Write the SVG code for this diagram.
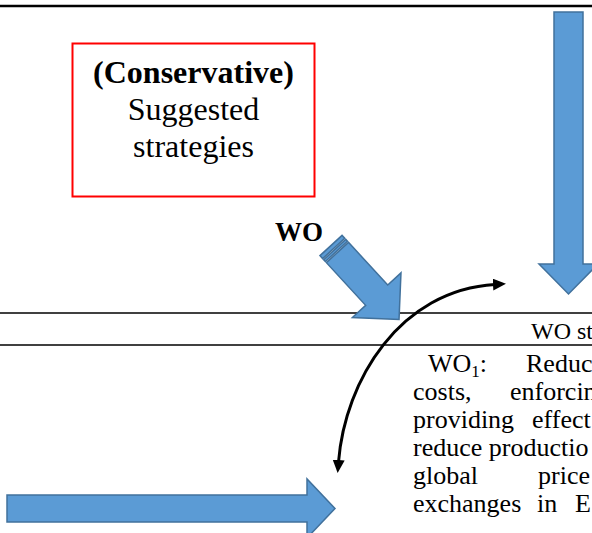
<svg xmlns="http://www.w3.org/2000/svg" width="592" height="533" viewBox="0 0 592 533">
<defs>
<style>
.blk{fill:#5B9BD5;stroke:#41719C;stroke-width:1.5;stroke-linejoin:miter}
.rule{stroke:#000;fill:none}
.t{font-family:"Liberation Serif","Times New Roman",serif;fill:#000}
.p{font-size:26px}
</style>
<marker id="ah" markerUnits="userSpaceOnUse" markerWidth="14" markerHeight="13" refX="2" refY="6" orient="auto-start-reverse">
<path d="M0,0 L13,6 L0,12 z" fill="#000"/>
</marker>
</defs>
<rect width="592" height="533" fill="#fff"/>
<g id="rules">
<line class="rule" x1="0" y1="6" x2="592" y2="6" stroke-width="2.5"/>
<line class="rule" x1="0" y1="313" x2="592" y2="313" stroke-width="1.5"/>
<line class="rule" x1="0" y1="345" x2="592" y2="345" stroke-width="1.5"/>
</g>
<g id="conservative-box">
<rect x="72.5" y="43.5" width="242" height="153" fill="none" stroke="#FF0000" stroke-width="2"/>
<text class="t" x="193.5" y="83" font-size="32" font-weight="bold" text-anchor="middle">(Conservative)</text>
<text class="t" x="193.5" y="120" font-size="32" text-anchor="middle">Suggested</text>
<text class="t" x="193.5" y="157" font-size="32" text-anchor="middle">strategies</text>
</g>
<g id="wo-label">
<text class="t" x="275" y="241" font-size="27" font-weight="bold">WO</text>
</g>
<g id="wo-arrow" transform="translate(331,245.5) rotate(47.4)">
<rect class="blk" x="0" y="-15" width="4" height="30"/>
<rect class="blk" x="5.5" y="-15" width="2.5" height="30"/>
<polygon class="blk" points="9.5,-15 67.5,-15 67.5,-33 100.5,0 67.5,33 67.5,15 9.5,15"/>
</g>
<g id="down-arrow">
<polygon class="blk" points="554,12 583,12 583,264 598,264 568.5,294 539,264 554,264"/>
</g>
<g id="right-arrow">
<polygon class="blk" points="7,495 307,495 307,479 335,508.5 307,538 307,522 7,522"/>
</g>
<g id="connectors">
<path d="M338.5,462 C345,380 400,290 495,284.5" fill="none" stroke="#000" stroke-width="3" marker-start="url(#ah)" marker-end="url(#ah)"/>
</g>
<g id="wo-strategies">
<text class="t" x="531" y="339" font-size="24">WO st</text>
</g>
<g id="wo1-text" class="t p">
<text x="428" y="372">WO<tspan font-size="17" dy="5">1</tspan><tspan dy="-5">:</tspan></text>
<text x="526" y="372">Reduc</text>
<text x="413" y="400">costs,</text>
<text x="510" y="400">enforcin</text>
<text x="413" y="428">providing</text>
<text x="532" y="428">effect</text>
<text x="413" y="456">reduce productio</text>
<text x="413" y="484">global</text>
<text x="538" y="484">price</text>
<text x="413" y="512">exchanges</text>
<text x="537" y="512">in</text>
<text x="575" y="512">E</text>
</g>
</svg>
